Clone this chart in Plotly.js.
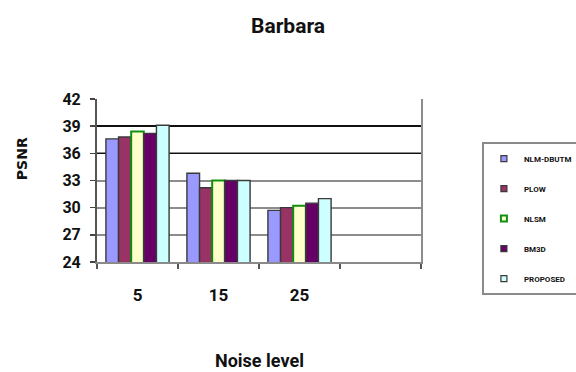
<!DOCTYPE html>
<html>
<head>
<meta charset="utf-8">
<script src="https://cdn.plot.ly/plotly-3.0.1.min.js"></script>
<style>
  html, body { margin: 0; padding: 0; background: #fff; }
  #chart { width: 576px; height: 372px; }
</style>
</head>
<body>
<div id="chart"></div>
<script>
// Noise levels (sigma) on the category axis; the fourth slot is left empty
var noiseLevels = ['5', '15', '25'];
var slotIndex = [0, 1, 2];

// PSNR (dB) per denoising method
var methodNames = ['NLM-DBUTM', 'PLOW', 'NLSM', 'BM3D', 'PROPOSED'];
var psnrNlmDbutm = [37.6, 33.8, 29.7];
var psnrPlow     = [37.8, 32.2, 30.0];
var psnrNlsm     = [38.4, 33.0, 30.2];
var psnrBm3d     = [38.2, 33.0, 30.5];
var psnrProposed = [39.1, 33.0, 31.0];

var yTicks = [24, 27, 30, 33, 36, 39, 42];

var seriesValues = [psnrNlmDbutm, psnrPlow, psnrNlsm, psnrBm3d, psnrProposed];
var fills   = ['#9999ff', '#993366', '#ffffcc', '#660066', '#ccffff'];
var outline = ['#3a3a3a', '#3a3a3a', '#109010', '#3a3a3a', '#3a3a3a'];
var outlineW = [1.4, 1.4, 2, 1.4, 1.4];

var narrow = 'Roboto, "Liberation Sans", sans-serif';
var wide = '"DejaVu Sans", Verdana, sans-serif';

var traces = [];
seriesValues.forEach(function (vals, i) {
  traces.push({
    type: 'bar',
    x: slotIndex,
    y: vals,
    name: methodNames[i],
    showlegend: false,
    marker: { color: fills[i], line: { color: outline[i], width: outlineW[i] } },
    hoverinfo: 'name+y'
  });
});
// Small square legend keys
methodNames.forEach(function (nm, i) {
  traces.push({
    type: 'scatter',
    mode: 'markers',
    x: [null],
    y: [null],
    name: nm,
    legendgroup: nm,
    marker: { symbol: 'square', size: 6, color: fills[i],
              line: { color: outline[i], width: i === 2 ? 2 : 1.2 } }
  });
});

var layout = {
  width: 576,
  height: 372,
  paper_bgcolor: '#ffffff',
  plot_bgcolor: '#ffffff',
  margin: { l: 97, r: 155, t: 99, b: 110, autoexpand: false },
  barmode: 'group',
  bargap: 0.22,
  bargroupgap: 0,
  title: {
    text: '<b>Barbara</b>',
    xref: 'container', x: 0.5, xanchor: 'center',
    yref: 'container', y: 0.932, yanchor: 'middle',
    font: { family: narrow, size: 21, color: '#111' }
  },
  xaxis: {
    range: [-0.5, 3.5],
    tickvals: slotIndex,
    ticktext: noiseLevels.map(function (s) { return '<b>' + s + '</b>'; }),
    ticks: '',
    ticklabelstandoff: 17,
    tickfont: { family: narrow, size: 17, color: '#111' },
    showgrid: false,
    zeroline: false,
    showline: true,
    linecolor: '#8a8a8a',
    linewidth: 2,
    minor: { tick0: 0.5, dtick: 1, ticks: 'outside', ticklen: 5, tickcolor: '#555', tickwidth: 1.5, showgrid: false },
    fixedrange: true
  },
  yaxis: {
    range: [24, 42],
    tickvals: yTicks,
    ticktext: yTicks.map(function (v) { return '<b>' + v + '</b>'; }),
    ticks: 'outside',
    ticklen: 5,
    tickwidth: 1.5,
    tickcolor: '#444',
    ticklabelstandoff: 6,
    tickfont: { family: narrow, size: 16, color: '#111' },
    showgrid: true,
    gridcolor: '#8c8c8c',
    gridwidth: 2,
    zeroline: false,
    showline: true,
    linecolor: '#555',
    linewidth: 2,
    fixedrange: true
  },
  // darker rules at 36 and 39, plus the grey right-hand frame
  yaxis2: {
    overlaying: 'y',
    side: 'right',
    range: [24, 42],
    tickvals: [36, 39],
    showticklabels: false,
    ticks: '',
    showgrid: true,
    gridcolor: '#111111',
    gridwidth: 1.6,
    zeroline: false,
    showline: true,
    linecolor: '#8c8c8c',
    linewidth: 2,
    fixedrange: true
  },
  showlegend: true,
  legend: {
    x: 1.188, xanchor: 'left',
    y: 0.736, yanchor: 'top',
    bgcolor: '#ffffff',
    bordercolor: '#8a8a8a',
    borderwidth: 2,
    tracegroupgap: 11,
    itemwidth: 30,
    font: { family: narrow, size: 8, color: '#111', weight: 'bold' }
  },
  annotations: [
    {
      text: '<b>PSNR</b>',
      xref: 'paper', yref: 'paper',
      x: -0.231, y: 0.632,
      xanchor: 'center', yanchor: 'middle',
      textangle: -90,
      showarrow: false,
      font: { family: wide, size: 14, color: '#111' }
    },
    {
      text: '<b>Noise level</b>',
      xref: 'paper', yref: 'paper',
      x: 0.503, y: -0.607,
      xanchor: 'center', yanchor: 'middle',
      showarrow: false,
      font: { family: narrow, size: 18, color: '#111' }
    }
  ]
};

// A dummy trace bound to yaxis2 so its grid and frame are drawn
traces.push({ type: 'scatter', x: [null], y: [null], yaxis: 'y2', showlegend: false, hoverinfo: 'skip' });

Plotly.newPlot('chart', traces, layout, { displayModeBar: false, staticPlot: true });
</script>
</body>
</html>
